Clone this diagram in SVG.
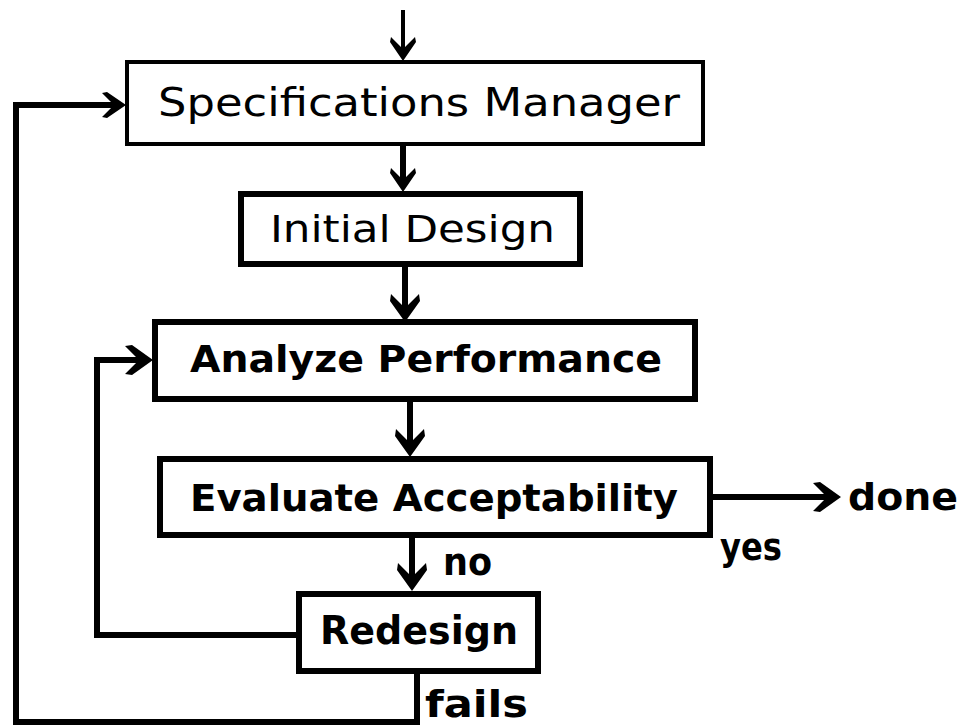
<svg xmlns="http://www.w3.org/2000/svg" width="973" height="728" viewBox="0 0 973 728">
  <style>
    .box { fill: #fff; stroke: #000; stroke-width: 6; }
    .box-thin { fill: #fff; stroke: #000; stroke-width: 4; }
    .wire { fill: none; stroke: #000; stroke-width: 6; stroke-linejoin: miter; }
    .wire-thin { fill: none; stroke: #000; stroke-width: 4; }
    .lbl { font-family: "DejaVu Sans Condensed", "DejaVu Sans", sans-serif; font-weight: bold; fill: #000; }
    .lbl-light { font-family: "DejaVu Sans Condensed", "DejaVu Sans", sans-serif; font-weight: normal; fill: #000; }
  </style>
  <defs>
    <!-- chevron arrowhead; tip sits 12px beyond the line end -->
    <marker id="head" markerUnits="userSpaceOnUse" viewBox="0 0 28 30" markerWidth="28" markerHeight="30" refX="15" refY="15" orient="auto">
      <path d="M0,1 L7,0 L28,15 L7,30 L0,29 L14,15 Z" fill="#000"/>
    </marker>
    <marker id="head-thin" markerUnits="userSpaceOnUse" viewBox="0 0 24 26" markerWidth="24" markerHeight="26" refX="13" refY="13" orient="auto">
      <path d="M0,1 L5,0 L24,13 L5,26 L0,25 L12,13 Z" fill="#000"/>
    </marker>
  </defs>

  <g id="connectors">
    <path class="wire-thin" d="M403,10 V50" marker-end="url(#head-thin)"/>
    <path class="wire" d="M403,144 V181" marker-end="url(#head-thin)"/>
    <path class="wire" d="M405,264 V309" marker-end="url(#head)"/>
    <path class="wire" d="M410,400 V444" marker-end="url(#head)"/>
    <path class="wire" d="M710,497 H828" marker-end="url(#head)"/>
    <path class="wire" d="M412,535 V578" marker-end="url(#head)"/>
    <path class="wire" d="M299,635 H97 V360 H140" marker-end="url(#head)"/>
    <path class="wire" d="M417,672 V722 H16 V105 H115" marker-end="url(#head-thin)"/>
  </g>

  <g id="spec-manager">
    <rect class="box-thin" x="127" y="62" width="576" height="82"/>
    <text class="lbl-light" x="158" y="116" font-size="39" textLength="522" lengthAdjust="spacingAndGlyphs">Specifications Manager</text>
  </g>

  <g id="initial-design">
    <rect class="box" x="241" y="194" width="339" height="70"/>
    <text class="lbl-light" x="270" y="242" font-size="38" textLength="285" lengthAdjust="spacingAndGlyphs">Initial Design</text>
  </g>

  <g id="analyze-performance">
    <rect class="box" x="155" y="322" width="540" height="77"/>
    <text class="lbl" x="190" y="372" font-size="38" textLength="472" lengthAdjust="spacingAndGlyphs">Analyze Performance</text>
  </g>

  <g id="evaluate-acceptability">
    <rect class="box" x="160" y="459" width="550" height="76"/>
    <text class="lbl" x="190" y="511" font-size="38" textLength="488" lengthAdjust="spacingAndGlyphs">Evaluate Acceptability</text>
  </g>

  <g id="redesign">
    <rect class="box" x="299" y="594" width="239" height="77"/>
    <text class="lbl" x="320" y="644" font-size="39" textLength="198" lengthAdjust="spacingAndGlyphs">Redesign</text>
  </g>

  <g id="labels">
    <text class="lbl" x="848" y="510" font-size="38" textLength="110" lengthAdjust="spacingAndGlyphs">done</text>
    <text class="lbl" x="720" y="560" font-size="38" textLength="62" lengthAdjust="spacingAndGlyphs">yes</text>
    <text class="lbl" x="443" y="575" font-size="38" textLength="49" lengthAdjust="spacingAndGlyphs">no</text>
    <text class="lbl" x="425" y="717" font-size="38" textLength="103" lengthAdjust="spacingAndGlyphs">fails</text>
  </g>
</svg>
